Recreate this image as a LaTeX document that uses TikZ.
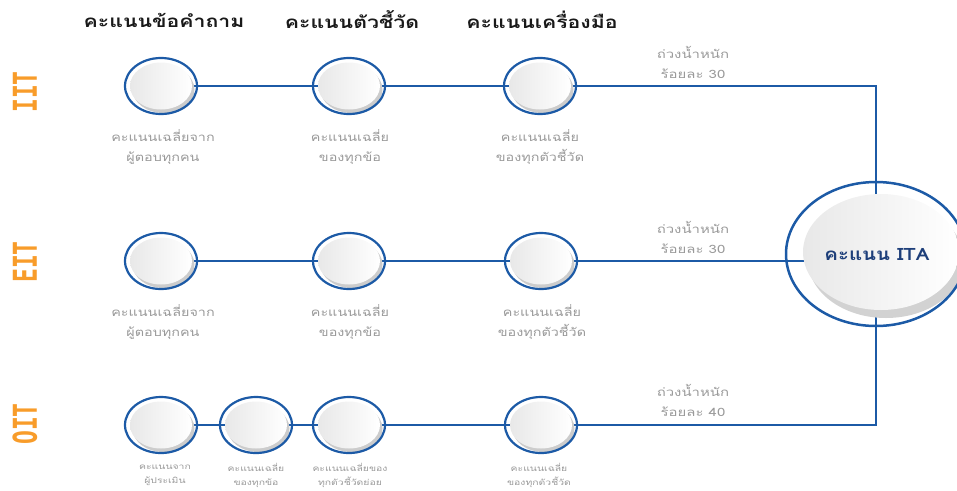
\documentclass[tikz,border=0pt]{standalone}
\usepackage{fontspec}
\newfontfamily\thaifont[Script=Thai]{Loma}
\newfontfamily\monofont{DejaVu Sans Mono}
\usetikzlibrary{shapes.geometric,backgrounds}
\definecolor{ringblue}{HTML}{1C5AA6}
\definecolor{orng}{HTML}{F89C2A}
\definecolor{txtgray}{HTML}{9A9A9A}
\definecolor{navy}{HTML}{1E3F7A}
\newcommand{\myX}[2][1.25]{\scalebox{#1}[1]{#2}}
\tikzset{
  ring/.style={ellipse, draw=ringblue, line width=2.2pt, minimum width=72pt, minimum height=56pt, inner sep=0pt,
    path picture={
      \fill[gray!40] ([shift={(2.5pt,-3.5pt)}]path picture bounding box.center) ellipse (31pt and 23.5pt);
      \shade[left color=gray!18, middle color=gray!3, right color=white] (path picture bounding box.center) ellipse (31pt and 23.5pt);
    }},
  bigring/.style={ellipse, draw=ringblue, line width=2.5pt, minimum width=180pt, minimum height=144pt, inner sep=0pt,
    path picture={
      \fill[gray!35] ([shift={(10pt,-6pt)}]path picture bounding box.center) ellipse (78pt and 58pt);
      \shade[left color=gray!18, middle color=gray!3, right color=white] ([shift={(5pt,2pt)}]path picture bounding box.center) ellipse (78pt and 58pt);
    }},
  link/.style={draw=ringblue, line width=1.3pt},
  hdr/.style={font=\thaifont\bfseries\fontsize{17}{18}\selectfont, text=black!90, inner sep=0pt},
  rowlab/.style={font=\monofont\bfseries\fontsize{23}{24}\selectfont, text=orng, rotate=90, inner sep=0pt},
  sub/.style={font=\thaifont\fontsize{11.5}{20}\selectfont, text=txtgray, align=center, inner sep=0pt},
  tiny/.style={font=\thaifont\fontsize{8}{14}\selectfont, text=txtgray, align=center, inner sep=0pt},
  wgt/.style={font=\thaifont\fontsize{11.5}{20}\selectfont, text=txtgray, align=center, inner sep=0pt},
}
\begin{document}
\begin{tikzpicture}[x=1pt,y=-1pt]
\useasboundingbox (0,0) rectangle (957,490);
% headers
\node[hdr] (h1) at (164,20) {\myX{คะแนนข้อคำถาม}};
\node[hdr] (h2) at (352,20) {\myX{คะแนนตัวชี้วัด}};
\node[hdr] (h3) at (542,20) {\myX{คะแนนเครื่องมือ}};
% row labels
\node[rowlab] (lIIT) at (25,92) {\scalebox{1}[1.43]{IIT}};
\node[rowlab] (lEIT) at (25,262) {\scalebox{1}[1.43]{EIT}};
\node[rowlab] (lOIT) at (25,424) {\scalebox{1}[1.43]{OIT}};
% circles
\node[ring] (i1) at (161,86) {};
\node[ring] (i2) at (349,86) {};
\node[ring] (i3) at (540,86) {};
\node[ring] (e1) at (161,261) {};
\node[ring] (e2) at (349,261) {};
\node[ring] (e3) at (541,261) {};
\node[ring] (o1) at (161,425) {};
\node[ring] (o2) at (256,425) {};
\node[ring] (o3) at (349,425) {};
\node[ring] (o4) at (541,425) {};
\node[bigring] (ita) at (876,254) {};
\node[font=\thaifont\bfseries\fontsize{17}{18}\selectfont, text=navy, inner sep=0pt] (itat) at (877,255) {\myX[1.2]{คะแนน ITA}};
% connectors
\begin{pgfonlayer}{background}
\draw[link] (i1.center) -- (i2.center) -- (i3.center) -| (ita.center);
\draw[link] (e1.center) -- (e2.center) -- (e3.center) -- (e3.center -| ita.center);
\draw[link] (o1.center) -- (o2.center) -- (o3.center) -- (o4.center) -| (ita.center);
\end{pgfonlayer}
% sub labels
\node[sub] (si1) at (163,147) {\myX{คะแนนเฉลี่ยจาก}\\\myX{ผู้ตอบทุกคน}};
\node[sub] (si2) at (350,147) {\myX{คะแนนเฉลี่ย}\\\myX{ของทุกข้อ}};
\node[sub] (si3) at (540,147) {\myX{คะแนนเฉลี่ย}\\\myX{ของทุกตัวชี้วัด}};
\node[sub] (se1) at (163,322) {\myX{คะแนนเฉลี่ยจาก}\\\myX{ผู้ตอบทุกคน}};
\node[sub] (se2) at (350,322) {\myX{คะแนนเฉลี่ย}\\\myX{ของทุกข้อ}};
\node[sub] (se3) at (542,322) {\myX{คะแนนเฉลี่ย}\\\myX{ของทุกตัวชี้วัด}};
\node[tiny] (so1) at (165,475) {\myX[1.3]{คะแนนจาก}\\\myX[1.3]{ผู้ประเมิน}};
\node[tiny] (so2) at (256,475) {\myX[1.3]{คะแนนเฉลี่ย}\\\myX[1.3]{ของทุกข้อ}};
\node[tiny] (so3) at (350,475) {\myX[1.3]{คะแนนเฉลี่ยของ}\\\myX[1.3]{ทุกตัวชี้วัดย่อย}};
\node[tiny] (so4) at (539,475) {\myX[1.3]{คะแนนเฉลี่ย}\\\myX[1.3]{ของทุกตัวชี้วัด}};
% weights
\node[wgt] (wi) at (693,62) {\myX[1.3]{ถ่วงน้ำหนัก}\\\myX[1.3]{ร้อยละ 30}};
\node[wgt] (we) at (693,237) {\myX[1.3]{ถ่วงน้ำหนัก}\\\myX[1.3]{ร้อยละ 30}};
\node[wgt] (wo) at (693,400) {\myX[1.3]{ถ่วงน้ำหนัก}\\\myX[1.3]{ร้อยละ 40}};
\end{tikzpicture}
\end{document}
